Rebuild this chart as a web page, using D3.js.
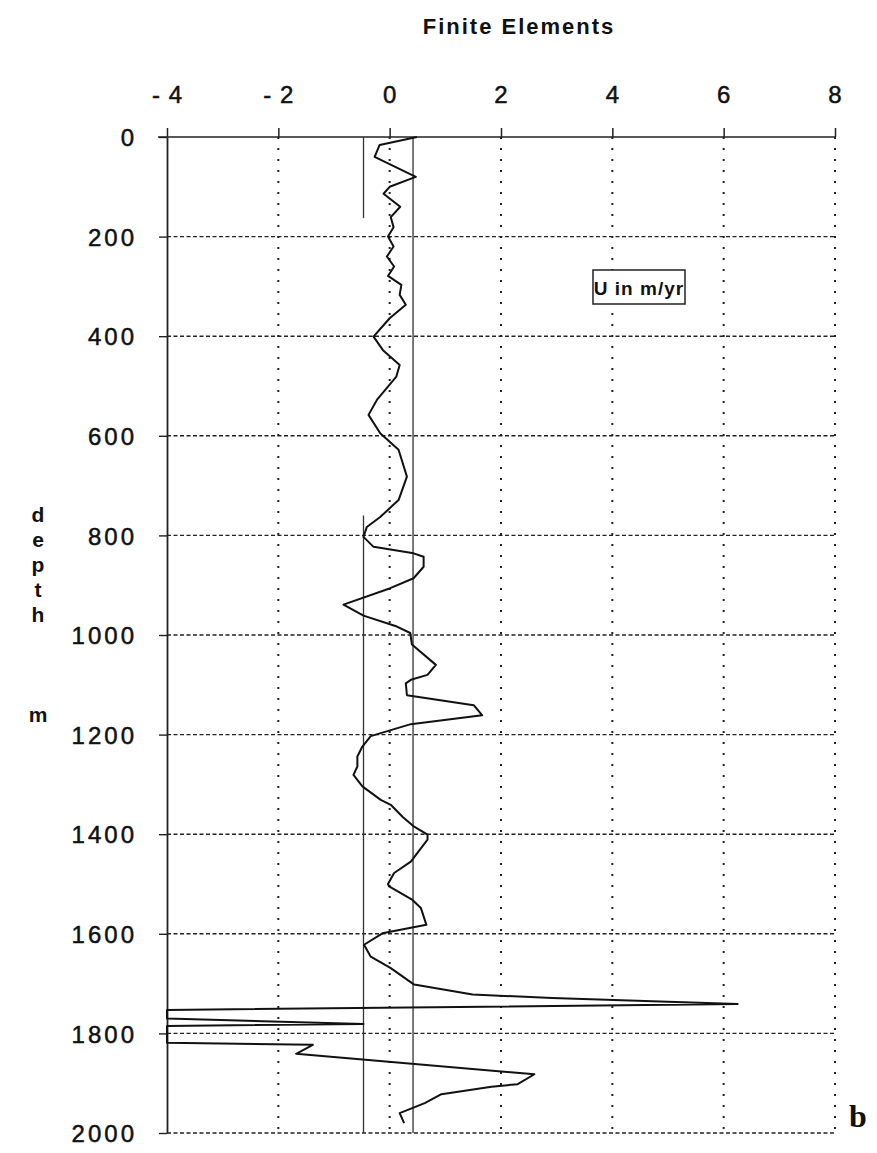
<!DOCTYPE html>
<html>
<head>
<meta charset="utf-8">
<script src="https://cdn.jsdelivr.net/npm/d3@7"></script>
<style>
  html, body { margin: 0; padding: 0; background: #fff; }
  svg { display: block; }
</style>
</head>
<body>
<svg id="chart" width="877" height="1153"></svg>
<script>
// ---- data ----
const xTicks = [-4, -2, 0, 2, 4, 6, 8];
const yTicks = [0, 200, 400, 600, 800, 1000, 1200, 1400, 1600, 1800, 2000];
const titleText = "Finite Elements";
const legendText = "U in m/yr";
const panelLabel = "b";
const yAxisLetters = ["d", "e", "p", "t", "h", "", "", "m"];

const depth = [0, 16, 40, 80, 100, 114, 140, 161, 181, 200, 220, 240, 260, 279, 297, 317, 337, 364,
  401, 428, 458, 481, 528, 558, 595, 628, 682, 729, 763, 783, 803, 823, 836, 843, 863, 886, 906,
  939, 961, 983, 996, 1019, 1060, 1080, 1090, 1097, 1121, 1141, 1161, 1179, 1191, 1203, 1224, 1244,
  1264, 1281, 1304, 1331, 1341, 1365, 1385, 1401, 1411, 1455, 1478, 1500, 1505, 1532, 1548, 1582,
  1599, 1622, 1646, 1669, 1702, 1722, 1729, 1741, 1753, 1770, 1781, 1785, 1819, 1823, 1841, 1882,
  1902, 1907, 1922, 1940, 1960, 1980];
const velocity = [0.49, -0.18, -0.27, 0.47, 0.0, -0.11, 0.19, 0.02, 0.07, -0.03, 0.07, -0.05, 0.08, -0.03, 0.21, 0.18, 0.29, 0.0,
  -0.29, -0.12, 0.18, 0.12, -0.23, -0.38, -0.17, 0.16, 0.31, 0.16, -0.17, -0.41, -0.47, -0.29, 0.43, 0.61, 0.61, 0.43, 0.01,
  -0.83, -0.47, 0.13, 0.37, 0.40, 0.83, 0.68, 0.38, 0.29, 0.31, 1.51, 1.66, 0.38, 0.02, -0.34, -0.49, -0.58,
  -0.58, -0.65, -0.49, -0.16, 0.02, 0.23, 0.44, 0.68, 0.68, 0.38, 0.08, -0.03, -0.01, 0.41, 0.56, 0.66,
  -0.13, -0.46, -0.34, 0.02, 0.44, 1.49, 2.92, 6.25, -4, -4, -0.47, -4, -4, -1.38, -1.68, 2.60,
  2.30, 1.83, 0.93, 0.63, 0.18, 0.26];

// reference vertical lines: value, depth from, depth to
const refValue = [-0.47, -0.47, 0.42];
const refFrom = [0, 760, 0];
const refTo = [163, 2000, 2000];

// ---- layout ----
const svg = d3.select("#chart");
const x = d3.scaleLinear().domain([-4, 8]).range([167, 835]);
const y = d3.scaleLinear().domain([0, 2000]).range([137, 1133]);
const FONT = "'Liberation Sans', Arial, Helvetica, sans-serif";

// horizontal gridlines (dashed)
svg.append("g").selectAll("line").data(yTicks.filter(d => d > 0)).join("line")
  .attr("x1", x(-4)).attr("x2", x(8))
  .attr("y1", d => y(d)).attr("y2", d => y(d))
  .attr("stroke", "#222").attr("stroke-width", 1.4)
  .attr("stroke-dasharray", "4,2.5");

// vertical gridlines (dotted)
svg.append("g").selectAll("line").data(xTicks.filter(d => d > -4)).join("line")
  .attr("x1", d => x(d)).attr("x2", d => x(d))
  .attr("y1", y(0)).attr("y2", y(2000))
  .attr("stroke", "#222").attr("stroke-width", 2)
  .attr("stroke-dasharray", "2,9");

// top axis
const topAxis = d3.axisTop(x).tickValues(xTicks).tickSize(9).tickSizeOuter(0)
  .tickFormat(d => d < 0 ? "- " + Math.abs(d) : String(d));
const gTop = svg.append("g").attr("transform", `translate(0,${y(0)})`).call(topAxis);
gTop.select(".domain").attr("stroke", "#222").attr("stroke-width", 1.5)
  .attr("d", `M${x(-4) - 9},0H${x(8)}`);
gTop.selectAll(".tick line").attr("stroke", "#222").attr("stroke-width", 1.5).attr("y2", -9);
gTop.selectAll(".tick text")
  .attr("y", -34).attr("dy", 0)
  .attr("font-family", FONT).attr("font-size", 24).attr("fill", "#111")
  .attr("stroke", "#111").attr("stroke-width", 0.5)
  .attr("letter-spacing", 1);

// left axis
const leftAxis = d3.axisLeft(y).tickValues(yTicks).tickSize(8).tickSizeOuter(0).tickPadding(22)
  .tickFormat(d3.format("d"));
const gLeft = svg.append("g").attr("transform", `translate(${x(-4)},0)`).call(leftAxis);
gLeft.select(".domain").attr("stroke", "#222").attr("stroke-width", 1.8);
gLeft.selectAll(".tick line").attr("stroke", "#222").attr("stroke-width", 1.4);
gLeft.selectAll(".tick text")
  .attr("dy", "0.36em")
  .attr("font-family", FONT).attr("font-size", 24).attr("fill", "#111")
  .attr("stroke", "#111").attr("stroke-width", 0.5)
  .attr("letter-spacing", 3);

// reference vertical lines
svg.append("g").selectAll("line").data(refValue.map((v, i) => ({ v, a: refFrom[i], b: refTo[i] }))).join("line")
  .attr("x1", d => x(d.v)).attr("x2", d => x(d.v))
  .attr("y1", d => y(d.a)).attr("y2", d => y(d.b))
  .attr("stroke", "#333").attr("stroke-width", 1.3);

// profile curve
const pts = depth.map((d, i) => [velocity[i], d]);
svg.append("path").datum(pts)
  .attr("d", d3.line().x(d => x(d[0])).y(d => y(d[1])))
  .attr("fill", "none").attr("stroke", "#111").attr("stroke-width", 2)
  .attr("stroke-linejoin", "round");

// title
svg.append("text").attr("x", 519).attr("y", 34).attr("text-anchor", "middle")
  .attr("font-family", FONT).attr("font-weight", "bold").attr("font-size", 22)
  .attr("letter-spacing", 2).attr("fill", "#111").text(titleText);

// y axis vertical label letters
const letterY = [522, 547, 572, 597, 622, 647, 672, 722];
svg.append("g").selectAll("text").data(yAxisLetters).join("text")
  .attr("x", 38).attr("y", (d, i) => letterY[i]).attr("text-anchor", "middle")
  .attr("font-family", FONT).attr("font-weight", "bold").attr("font-size", 21)
  .attr("fill", "#111").text(d => d);

// legend box
const lg = svg.append("g");
lg.append("rect").attr("x", 593).attr("y", 270).attr("width", 92).attr("height", 34)
  .attr("fill", "#fff").attr("stroke", "#222").attr("stroke-width", 1.5);
lg.append("text").attr("x", 639).attr("y", 295).attr("text-anchor", "middle")
  .attr("font-family", FONT).attr("font-weight", "bold").attr("font-size", 19)
  .attr("letter-spacing", 1).attr("fill", "#111").text(legendText);

// panel label
svg.append("text").attr("x", 858).attr("y", 1127).attr("text-anchor", "middle")
  .attr("font-family", "'Liberation Serif', 'Times New Roman', serif").attr("font-weight", "bold")
  .attr("font-size", 32).attr("fill", "#111").text(panelLabel);
</script>
</body>
</html>
